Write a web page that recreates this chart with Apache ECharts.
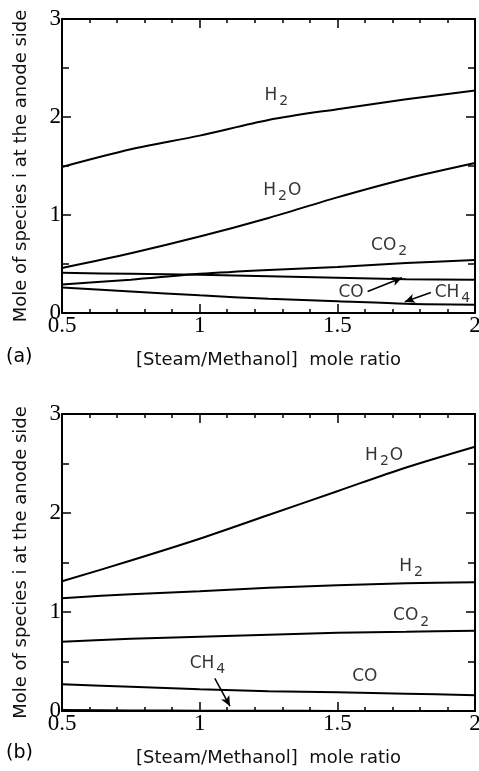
<!DOCTYPE html>
<html><head><meta charset="utf-8">
<script src="https://cdn.jsdelivr.net/npm/echarts@6/dist/echarts.min.js"></script>
<style>html,body{margin:0;padding:0;background:#fff}#c{width:479px;height:771px}</style>
</head><body><div id="c"></div>
<script>
// ---- data ----
const ratio = [0.5, 0.75, 1.0, 1.25, 1.5, 1.75, 2.0];
// panel (a)
const aH2  = [1.49, 1.67, 1.81, 1.97, 2.08, 2.18, 2.27];
const aH2O = [0.46, 0.61, 0.78, 0.97, 1.18, 1.37, 1.53];
const aCO2 = [0.29, 0.34, 0.40, 0.44, 0.47, 0.51, 0.54];
const aCO  = [0.41, 0.40, 0.39, 0.375, 0.36, 0.345, 0.34];
const aCH4 = [0.26, 0.22, 0.18, 0.145, 0.12, 0.095, 0.085];
// panel (b)
const bH2O = [1.31, 1.52, 1.74, 1.98, 2.22, 2.46, 2.67];
const bH2  = [1.14, 1.18, 1.21, 1.245, 1.27, 1.29, 1.30];
const bCO2 = [0.70, 0.73, 0.75, 0.77, 0.79, 0.80, 0.81];
const bCO  = [0.27, 0.245, 0.22, 0.20, 0.19, 0.175, 0.16];
const bCH4 = [0.01, 0.006, 0.003, 0.002, 0.001, 0.001, 0.0];
const xTicks = [0.5, 1, 1.5, 2];
const yTicks = [0, 1, 2, 3];

// annotations (label positions in data units)
const aLabels = [
  {t:'{m|H}{s|2}', x:1.28, y:2.22},
  {t:'{m|H}{s|2}{m|O}', x:1.30, y:1.25},
  {t:'{m|CO}{s|2}', x:1.69, y:0.69},
  {t:'{m|CO}', x:1.55, y:0.21},
  {t:'{m|CH}{s|4}', x:1.92, y:0.21}
];
const bLabels = [
  {t:'{m|H}{s|2}{m|O}', x:1.67, y:2.58},
  {t:'{m|H}{s|2}', x:1.77, y:1.46},
  {t:'{m|CO}{s|2}', x:1.77, y:0.96},
  {t:'{m|CO}', x:1.60, y:0.35},
  {t:'{m|CH}{s|4}', x:1.03, y:0.48}
];
const aArrows = [
  [[1.61, 0.22], [1.735, 0.36]],
  [[1.84, 0.21], [1.745, 0.115]]
];
const bArrows = [
  [[1.055, 0.33], [1.11, 0.05]]
];

const pair = (ys) => ratio.map((x, i) => [x, ys[i]]);
const serif = 'Liberation Serif';
const sans = 'DejaVu Sans';

function xAx(grid, bottom) {
  return {
    type: 'value', gridIndex: grid, position: bottom ? 'bottom' : 'top',
    min: 0.5, max: 2, interval: 0.5,
    name: bottom ? '[Steam/Methanol]  mole ratio' : '',
    nameLocation: 'middle', nameGap: 38,
    nameTextStyle: {fontFamily: sans, fontSize: 18, color: '#111'},
    axisLine: {show: true, onZero: false, lineStyle: {color: '#000', width: 2}},
    axisTick: {show: true, inside: true, length: 9, lineStyle: {color: '#000', width: 1.5}},
    minorTick: {show: true, splitNumber: 5, length: 4, lineStyle: {color: '#000', width: 1.5}},
    axisLabel: {show: bottom, margin: 1, fontFamily: serif, fontSize: 23, color: '#000',
      formatter: v => xTicks.indexOf(v) >= 0 ? String(v) : ''},
    splitLine: {show: false}
  };
}
function yAx(grid, left) {
  return {
    type: 'value', gridIndex: grid, position: left ? 'left' : 'right',
    min: 0, max: 3, interval: 1,
    name: left ? 'Mole of species i at the anode side' : '',
    nameLocation: 'middle', nameGap: 32,
    nameTextStyle: {fontFamily: sans, fontSize: 18, color: '#111'},
    axisLine: {show: true, onZero: false, lineStyle: {color: '#000', width: 2}},
    axisTick: {show: true, inside: true, length: 9, lineStyle: {color: '#000', width: 1.5}},
    minorTick: {show: true, splitNumber: 2, length: 7, lineStyle: {color: '#000', width: 1.5}},
    axisLabel: {show: left, margin: 1, fontFamily: serif, fontSize: 23, color: '#000',
      formatter: v => yTicks.indexOf(v) >= 0 ? String(v) : ''},
    splitLine: {show: false}
  };
}
function lineSeries(ys, ax) {
  return {type: 'line', xAxisIndex: ax, yAxisIndex: ax, data: pair(ys), smooth: 0.3,
    symbol: 'none', lineStyle: {color: '#000', width: 2}, silent: true};
}
const rich = {
  m: {fontFamily: sans, fontSize: 17, color: '#000'},
  s: {fontFamily: sans, fontSize: 14, color: '#000', padding: [12, 1, 0, 2]}
};
function labelSeries(list, ax) {
  return {type: 'scatter', xAxisIndex: ax, yAxisIndex: ax, symbolSize: 0, silent: true,
    data: list.map(l => ({value: [l.x, l.y], label: {show: true, position: 'inside', formatter: l.t, rich: rich}}))};
}
function arrowSeries(list, ax) {
  return {type: 'line', xAxisIndex: ax, yAxisIndex: ax, data: [], silent: true,
    markLine: {silent: true, symbol: ['none', 'arrow'], symbolSize: [7, 10], animation: false,
      label: {show: false}, lineStyle: {color: '#000', width: 1.5, type: 'solid'},
      data: list.map(a => [{coord: a[0]}, {coord: a[1]}])}};
}

const chart = echarts.init(document.getElementById('c'), null, {renderer: 'canvas'});
chart.setOption({
  animation: false,
  backgroundColor: '#fff',
  grid: [
    {left: 62, top: 19, width: 413, height: 294, outerBoundsMode: 'none', containLabel: false},
    {left: 62, top: 414, width: 413, height: 297, outerBoundsMode: 'none', containLabel: false}
  ],
  xAxis: [xAx(0, true), xAx(0, false), xAx(1, true), xAx(1, false)],
  yAxis: [yAx(0, true), yAx(0, false), yAx(1, true), yAx(1, false)],
  series: [
    lineSeries(aH2, 0), lineSeries(aH2O, 0), lineSeries(aCO2, 0), lineSeries(aCO, 0), lineSeries(aCH4, 0),
    lineSeries(bH2O, 2), lineSeries(bH2, 2), lineSeries(bCO2, 2), lineSeries(bCO, 2), lineSeries(bCH4, 2),
    labelSeries(aLabels, 0), labelSeries(bLabels, 2),
    arrowSeries(aArrows, 0), arrowSeries(bArrows, 2)
  ],
  graphic: [
    {type: 'text', left: 6, top: 348, style: {text: '(a)', fontFamily: sans, fontSize: 19, fill: '#000'}},
    {type: 'text', left: 6, top: 744, style: {text: '(b)', fontFamily: sans, fontSize: 19, fill: '#000'}}
  ]
});
</script></body></html>
